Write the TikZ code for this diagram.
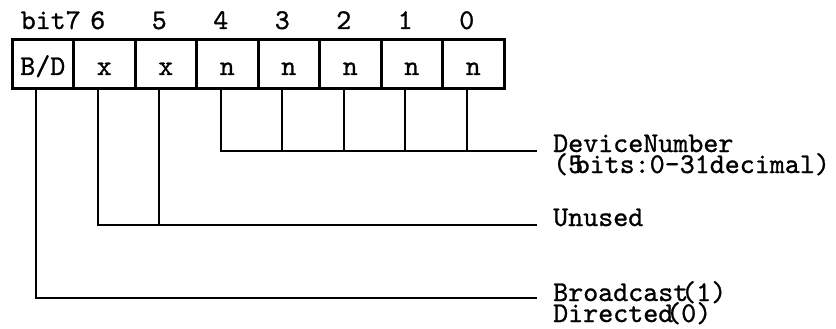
\documentclass[tikz,border=0pt]{standalone}
\usepackage{fontspec}
\newfontfamily\regmono{lmmono10-regular.otf}[FakeBold=0.9]
\usetikzlibrary{positioning}
\begin{document}
\begin{tikzpicture}[
  x=1pt, y=-1pt,
  font=\regmono\fontsize{28.6}{21}\selectfont,
  bitcell/.style={
    rectangle, draw, line width=3pt,
    minimum width=61.5pt, minimum height=49pt,
    inner sep=0pt, text height=21pt, text depth=0pt
  },
  bitnum/.style={anchor=base, inner sep=0pt},
  wire/.style={line width=2pt},
  fieldlbl/.style={anchor=base west, inner sep=0pt}
]
\useasboundingbox (0,0) rectangle (836,329);

% register cells
\foreach \i/\t in {7/{B/D},6/x,5/x,4/n,3/n,2/n,1/n,0/n} {
  \node[bitcell] (b\i) at ({42.75+61.5*(7-\i)},64.5) {\t};
}

% bit numbers
\node[bitnum, anchor=base east] (d7) at (81,29) {bit7};
\foreach \i in {6,...,0} {
  \node[bitnum] (d\i) at ({36.25+61.5*(7-\i)},29) {\i};
}

\coordinate (devend) at (537,151);
\coordinate (unend) at (537,225);
\coordinate (bdend) at (537,298);

% wires
\foreach \i in {3,...,0} {
  \draw[wire] ([xshift=-6.5pt]b\i.south) -- ([xshift=-6.5pt]b\i.south |- devend);
}
\draw[wire] ([xshift=-6.5pt]b4.south) |- (devend);
\draw[wire] ([xshift=-6.5pt]b5.south) -- ([xshift=-6.5pt]b5.south |- unend);
\draw[wire] ([xshift=-6.5pt]b6.south) |- (unend);
\draw[wire] ([xshift=-6.5pt]b7.south) |- (bdend);

% field labels
\node[fieldlbl] (devlbl) at ([xshift=16pt,yshift=-1pt]devend) {DeviceNumber};
\node[fieldlbl] (devrng) at ([yshift=-21pt]devlbl.base west) {(5\kern-0.3em bits:0\textendash31decimal)};
\node[fieldlbl] (unlbl) at ([xshift=16pt,yshift=-1pt]unend) {Unused};
\node[fieldlbl] (bdlbl) at ([xshift=16pt,yshift=-3pt]bdend) {Broadcast\kern-0.25em(1)};
\node[fieldlbl] (dirlbl) at ([yshift=-21pt]bdlbl.base west) {Directed\kern-0.25em(0)};
\end{tikzpicture}
\end{document}
